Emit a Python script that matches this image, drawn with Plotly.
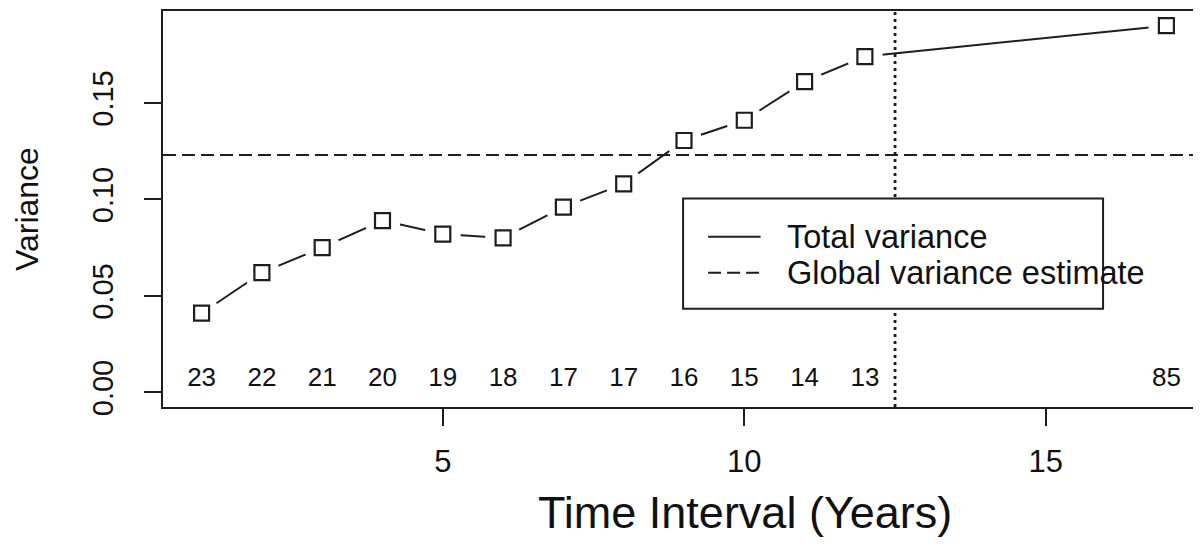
import plotly.graph_objects as go

# ---- data ----
x_vals = [1, 2, 3, 4, 5, 6, 7, 8, 9, 10, 11, 12, 17]
variance = [0.041, 0.062, 0.075, 0.089, 0.082, 0.080, 0.096, 0.108, 0.1305, 0.141, 0.161, 0.174, 0.190]
counts = ["23", "22", "21", "20", "19", "18", "17", "17", "16", "15", "14", "13", "85"]
count_y = 0.0064
global_variance = 0.123
split_x = 12.5
x_ticks = [5, 10, 15]
y_ticks = [0.00, 0.05, 0.10, 0.15]
y_tick_labels = ["0.00", "0.05", "0.10", "0.15"]
legend_labels = ["Total variance", "Global variance estimate"]

INK = "#1e1e1e"
TXT = "#111111"
FONT = "Liberation Sans, Arial, sans-serif"

# the page body has an 8px default margin; size the figure so it fits the 1201x556 window
PAGE_OFFSET = 8

fig = go.Figure()

# connecting line (R type="b" style; gaps around points made by white masks)
fig.add_trace(go.Scatter(x=x_vals, y=variance, mode="lines",
                         line=dict(color=INK, width=2), hoverinfo="skip", showlegend=False))
fig.add_trace(go.Scatter(x=x_vals, y=variance, mode="markers",
                         marker=dict(symbol="circle", size=36, color="white", line=dict(width=0)),
                         hoverinfo="skip", showlegend=False))
fig.add_trace(go.Scatter(x=x_vals, y=variance, mode="markers",
                         marker=dict(symbol="square", size=15, color="white",
                                     line=dict(color=INK, width=2.2)),
                         showlegend=False))
# count labels
fig.add_trace(go.Scatter(x=x_vals, y=[count_y] * len(x_vals), mode="text", text=counts,
                         textposition="middle center",
                         textfont=dict(family=FONT, size=26, color=TXT),
                         hoverinfo="skip", showlegend=False))

shapes = [
    dict(type="line", xref="paper", x0=0, x1=1, yref="y", y0=global_variance, y1=global_variance,
         line=dict(color=INK, width=2, dash="13px,6px"), layer="above"),
    dict(type="line", xref="x", x0=split_x, x1=split_x, yref="paper", y0=0, y1=1,
         line=dict(color=INK, width=2.8, dash="3px,4px"), layer="above"),
    # legend box
    dict(type="rect", xref="x", x0=8.985, x1=15.95, yref="y", y0=0.0433, y1=0.1004,
         line=dict(color=INK, width=2), fillcolor="white", layer="above"),
    dict(type="line", xref="x", x0=9.40, x1=10.27, yref="y", y0=0.0806, y1=0.0806,
         line=dict(color=INK, width=2), layer="above"),
    dict(type="line", xref="x", x0=9.40, x1=10.27, yref="y", y0=0.062, y1=0.062,
         line=dict(color=INK, width=2, dash="13px,6px"), layer="above"),
]

annotations = [
    dict(text=legend_labels[0], xref="x", x=10.68, yref="y", y=0.0806, xanchor="left",
         yanchor="middle", showarrow=False, font=dict(family=FONT, size=32.5, color=TXT)),
    dict(text=legend_labels[1], xref="x", x=10.68, yref="y", y=0.062, xanchor="left",
         yanchor="middle", showarrow=False, font=dict(family=FONT, size=32.5, color=TXT)),
    dict(text="Time Interval (Years)", xref="paper", x=(745 - 163) / 1038, yref="paper",
         y=-(512 - 407) / 396, xanchor="center", yanchor="middle", showarrow=False,
         font=dict(family=FONT, size=45, color=TXT)),
    dict(text="Variance", xref="paper", x=-(163 - 27) / 1038, yref="paper", y=0.5,
         xanchor="center", yanchor="middle", textangle=-90, showarrow=False,
         font=dict(family=FONT, size=32, color=TXT)),
]

fig.update_layout(
    width=1201 - PAGE_OFFSET, height=556 - 2 * PAGE_OFFSET,
    margin=dict(l=163 - PAGE_OFFSET, r=0, t=11 - PAGE_OFFSET,
                b=556 - 2 * PAGE_OFFSET - (407 - PAGE_OFFSET), autoexpand=False),
    paper_bgcolor="white", plot_bgcolor="white",
    shapes=shapes, annotations=annotations,
    font=dict(family=FONT, color=TXT),
    xaxis=dict(range=[0.36, 17.574], tickvals=x_ticks, ticktext=[str(v) for v in x_ticks],
               automargin=False,
               showgrid=False, zeroline=False, showline=True, mirror=True,
               linecolor=INK, linewidth=2, ticks="outside", ticklen=17, tickwidth=2,
               tickcolor=INK, tickfont=dict(family=FONT, size=31), ticklabelstandoff=9),
    yaxis=dict(range=[-0.0076, 0.1976], tickvals=y_ticks, ticktext=y_tick_labels,
               automargin=False,
               showgrid=False, zeroline=False, showline=True, mirror=False,
               linecolor=INK, linewidth=2, ticks="outside", ticklen=17, tickwidth=2,
               tickcolor=INK, tickangle=-90, tickfont=dict(family=FONT, size=29),
               ticklabelstandoff=19),
)

fig.write_html("out.html")
